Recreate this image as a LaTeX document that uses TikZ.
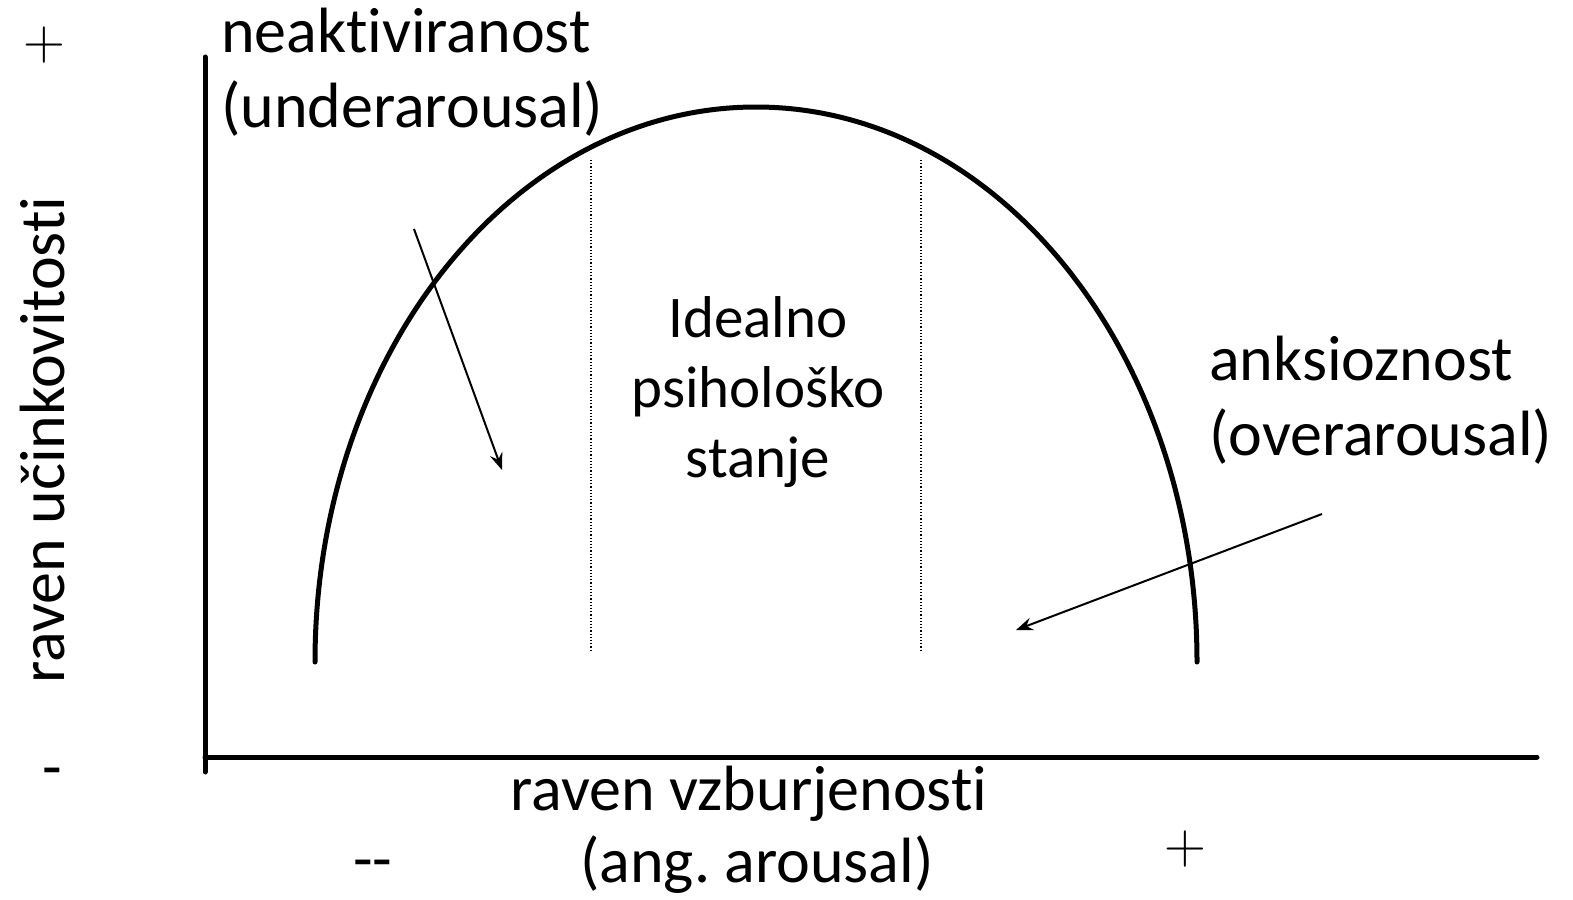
\documentclass[tikz,border=0pt]{standalone}
\usepackage{fontspec}
\setmainfont{Carlito}[Ligatures={NoCommon,TeX}]
\newfontfamily\thinfont{Latin Modern Roman}
\usetikzlibrary{arrows.meta}
\frenchspacing
\tikzset{
  axis/.style={line width=5pt, line cap=round},
  curve/.style={line width=5pt, line cap=round},
  guide/.style={line width=1.2pt, dotted},
  pointer/.style={line width=2pt, -{Stealth[length=17pt,width=13pt,inset=6pt]}},
  lbl/.style={font=\fontsize{64}{75}\selectfont, inner sep=0pt, align=left},
  mid/.style={font=\fontsize{59}{70}\selectfont, inner sep=0pt, align=center},
  sign/.style={font=\fontsize{64}{75}\selectfont, inner sep=0pt},
  thinsign/.style={font=\thinfont\fontsize{58}{70}\selectfont, inner sep=0pt},
}
\begin{document}
\begin{tikzpicture}[x=1pt,y=-1pt]
\useasboundingbox (0,0) rectangle (1573,899);
% axes
\coordinate (yTop) at (205,57);
\coordinate (yBot) at (205,772);
\coordinate (xL) at (205,757);
\coordinate (xR) at (1537,757);
\draw[axis] (yTop) -- (yBot);
\draw[axis] (xL) -- (xR);
% curve
\coordinate (cL) at (315,662);
\draw[curve] (cL) arc[start angle=180, end angle=0, x radius=441, y radius=-555];
% dotted guides
\coordinate (d1t) at (591,160); \coordinate (d1b) at (591,652);
\coordinate (d2t) at (921,160); \coordinate (d2b) at (921,652);
\draw[guide] (d1t) -- (d1b);
\draw[guide] (d2t) -- (d2b);
% arrows
\coordinate (a1s) at (414,229); \coordinate (a1e) at (502,470);
\coordinate (a2s) at (1322,514); \coordinate (a2e) at (1016,630);
\draw[pointer] (a1s) -- (a1e);
\draw[pointer] (a2s) -- (a2e);
% texts
\node[lbl, anchor=north west] (under) at (221,8) {neaktiviranost\\(underarousal)};
\node[lbl, anchor=north west] (over) at (1209,336) {anksioznost\\(overarousal)};
\node[mid] (ideal) at (758,392) {Idealno\\psihološko\\stanje};
\node[lbl, anchor=base] (xlab1) at (749,810) {raven vzburjenosti};
\node[lbl, anchor=base] (xlab2) at (757,882) {(ang. arousal)};
\node[lbl, rotate=90] (ylab) at (43,440) {raven učinkovitosti};
\node[thinsign] (yplus) at (44,45) {+};
\node[sign] (yminus) at (52,778) {-};
\node[sign] (xminus) at (373,870) {-{}-};
\node[thinsign] (xplus) at (1185,849) {+};
\end{tikzpicture}
\end{document}
